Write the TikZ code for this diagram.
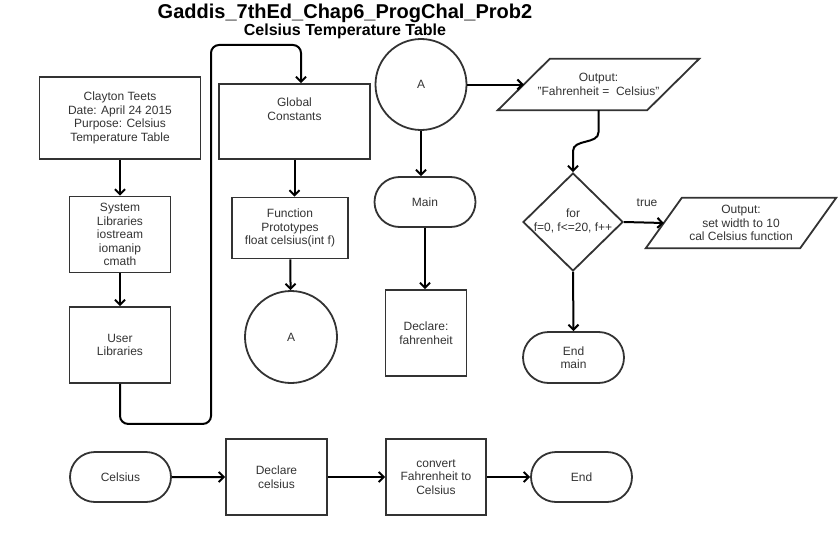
\documentclass[tikz,border=0pt]{standalone}
\usepackage{fontspec}
\setmainfont{Liberation Sans}
\usetikzlibrary{shapes.geometric,shapes.misc,arrows.meta}

\tikzset{
  boxline/.style={draw=black!80, line width=1.8pt},
  box/.style={boxline, inner sep=0pt, align=center,
    font=\fontsize{12}{13.5}\selectfont, text=black!80},
  term/.style={box, rounded rectangle},
  txt/.style={align=center, inner sep=0pt, font=\fontsize{12}{13.5}\selectfont, text=black!80},
  conn/.style={line width=2pt, -{Straight Barb[length=5pt,width=10pt]}}
}
% slanted input/output box drawn round a plain node
\newcommand{\iobox}[2]{\draw[boxline, line join=miter] ([xshift=#2]#1.north west) -- ([xshift=#2]#1.north east)
  -- ([xshift=-#2]#1.south east) -- ([xshift=-#2]#1.south west) -- cycle;}

\begin{document}
\begin{tikzpicture}[x=1pt, y=-1pt]
    \useasboundingbox (0,0) rectangle (838,535);

    % heading
    \node[anchor=base, font=\fontsize{20}{22}\selectfont\bfseries] (head) at (345,18.3) {Gaddis\_7thEd\_Chap6\_ProgChal\_Prob2};
    \node[anchor=base, font=\fontsize{16}{18}\selectfont\bfseries] (sub) at (345,36) {Celsius Temperature Table};

    % left column: header and libraries
    \node[box, minimum width=161, minimum height=82] (info) at (120,118) {Clayton Teets\\Date: April 24 2015\\Purpose: Celsius\\Temperature Table};
    \node[box, minimum width=101, minimum height=76] (sys) at (120,234.5) {System\\Libraries\\iostream\\iomanip\\cmath};
    \node[box, minimum width=101, minimum height=76] (user) at (120,345) {User\\Libraries};

    % middle column
    \node[box, minimum width=151, minimum height=75] (glob) at (294.5,121.5) {};
    \node[txt] (globtxt) at (294.5,109) {Global\\Constants};
    \node[box, minimum width=116, minimum height=61] (proto) at (290,228) {Function\\Prototypes\\float celsius(int f)};
    \node[box, circle, minimum size=92] (conB) at (291,337) {A};
    \coordinate (bend) at (211,45);

    % main
    \node[box, circle, minimum size=91] (conA) at (421,84.5) {A};
    \node[term, minimum width=101, minimum height=50] (main) at (425,202) {Main};
    \node[box, minimum width=81, minimum height=86] (declF) at (426,333) {Declare:\\fahrenheit};
    \node[txt, minimum width=149, minimum height=51] (out1) at (598.5,84.5) {Output:\\"Fahrenheit =~ Celsius"};
    \iobox{out1}{26pt}
    \node[box, diamond, minimum width=100, minimum height=98] (loop) at (573,222) {};
    \node[txt] (looptxt) at (573,221) {for\\f=0, f<=20, f++};
    \node[txt] (truelbl) at (647,203) {true};
    \node[txt, minimum width=154, minimum height=50] (out2) at (741,223) {Output:\\set width to 10\\cal Celsius function};
    \iobox{out2}{18pt}
    \node[term, minimum width=101, minimum height=51] (endm) at (573.5,357.5) {End\\main};

    % celsius function
    \node[term, minimum width=101, minimum height=50] (cels) at (120.5,477) {Celsius};
    \node[box, minimum width=101, minimum height=76] (declC) at (276.5,477) {Declare\\celsius};
    \node[box, minimum width=100, minimum height=76] (conv) at (436,477) {convert\\Fahrenheit to\\Celsius};
    \node[term, minimum width=101, minimum height=50] (fin) at (581.5,477) {End};

    % connectors
    \draw[conn] (info) -- (sys);
    \draw[conn] (sys) -- (user);
    \draw[conn, rounded corners=8] (user.south) -- ++(0,40) -| (bend) -| ([xshift=6.5pt]glob.north);
    \draw[conn] (glob.south) -- (glob.south |- proto.north);
    \draw[conn] (proto) -- (conB);
    \draw[conn] (conA.south) -- (conA.south |- main.north);
    \draw[conn] (main.south) -- (main.south |- declF.north);
    \draw[conn] (conA.east) -- (out1.west);
    \draw[conn] (out1.south) -- ++(0,22) to[out=-90, in=90] ([yshift=21pt]loop.north) -- (loop.north);
    \draw[conn] (loop.east) -- (out2.west);
    \draw[conn] (loop.south) -- (endm.north);
    \foreach \a/\b in {cels/declC, declC/conv, conv/fin} \draw[conn] (\a) -- (\b);
\end{tikzpicture}
\end{document}
